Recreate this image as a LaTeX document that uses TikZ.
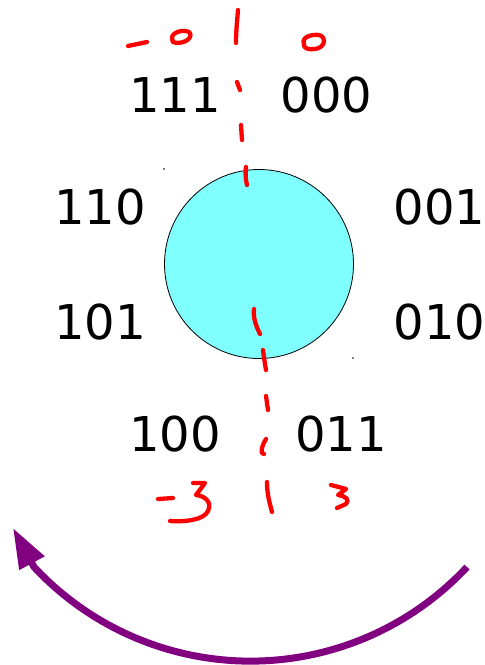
\documentclass[tikz,border=0pt]{standalone}
\usepackage{fontspec}
\setmainfont{DejaVu Sans}
\usetikzlibrary{arrows.meta}
\definecolor{ballcyan}{RGB}{128,255,255}
\definecolor{arrowpurple}{RGB}{128,0,128}
\tikzset{
  lbl/.style={font=\fontsize{48}{56}\selectfont, inner sep=0pt, anchor=center},
  ink/.style={draw=red, line width=4.3pt, line cap=round, line join=round},
  ball/.style={circle, draw=black, line width=0.8pt, fill=ballcyan, minimum size=189pt, inner sep=0pt},
  turn/.style={draw=arrowpurple, line width=7pt, -{Triangle[length=40pt,width=27pt]}},
  speck/.style={fill=gray, inner sep=0pt, minimum size=1.5pt}
}
\begin{document}
\begin{tikzpicture}[x=1pt,y=-1pt]
\useasboundingbox (0,0) rectangle (485,665);
\node[ball] (ball) at (259,264) {};
\node[speck] (s1) at (164,169) {};
\node[speck] (s2) at (353,358) {};
\node[speck] (s3) at (141,337) {};
\node[lbl] (l111) at (175,95) {111};
\node[lbl] (l000) at (326.5,95.5) {000};
\node[lbl] (l110) at (100,207.5) {110};
\node[lbl] (l001) at (439.5,207.5) {001};
\node[lbl] (l101) at (100,322.5) {101};
\node[lbl] (l010) at (439.5,322.5) {010};
\node[lbl] (l100) at (175,434) {100};
\node[lbl] (l011) at (341,434) {011};
% top handwriting
\path[ink] (128,46) -- (147,42);
\path[ink] (173,42) .. controls (167,32) and (186,28) .. (190,33) .. controls (193,40) and (180,45) .. (173,42) -- (172,38);
\path[ink] (238,10) .. controls (237,22) and (236,32) .. (236,43);
\path[ink] (304,44) .. controls (301,37) and (312,34) .. (319,35) .. controls (327,37) and (325,48) .. (315,49) .. controls (308,50) and (303,48) .. (304,44);
% dashed divider
\path[ink] (237,82) -- (240,90);
\path[ink] (241,125) -- (242,140);
\path[ink] (246,167) .. controls (245,175) and (246,181) .. (247,185);
\path[ink] (254,309) .. controls (253,318) and (256,326) .. (260,334);
\path[ink] (263,350) .. controls (264,358) and (265,364) .. (266,370);
\path[ink] (266,396) -- (268,410);
\path[ink] (266,439) .. controls (262,445) and (261,451) .. (262,453) -- (264,454);
\path[ink] (267,482) .. controls (267,495) and (270,504) .. (272,512);
% bottom handwriting
\path[ink] (158,499) -- (173,498);
\path[ink] (193,483) -- (205,483) -- (196,495) .. controls (206,496) and (212,503) .. (208,511) .. controls (204,520) and (185,522) .. (170,521);
\path[ink] (331,485) -- (346,489) -- (338,495) .. controls (346,496) and (350,500) .. (346,504) -- (337,508);
% rotation arrow
\coordinate (astart) at (467,567);
\coordinate (tip) at (13,528);
\draw[turn] (astart) arc[start angle=43, end angle=137, radius=296] -- (tip);
\end{tikzpicture}
\end{document}
